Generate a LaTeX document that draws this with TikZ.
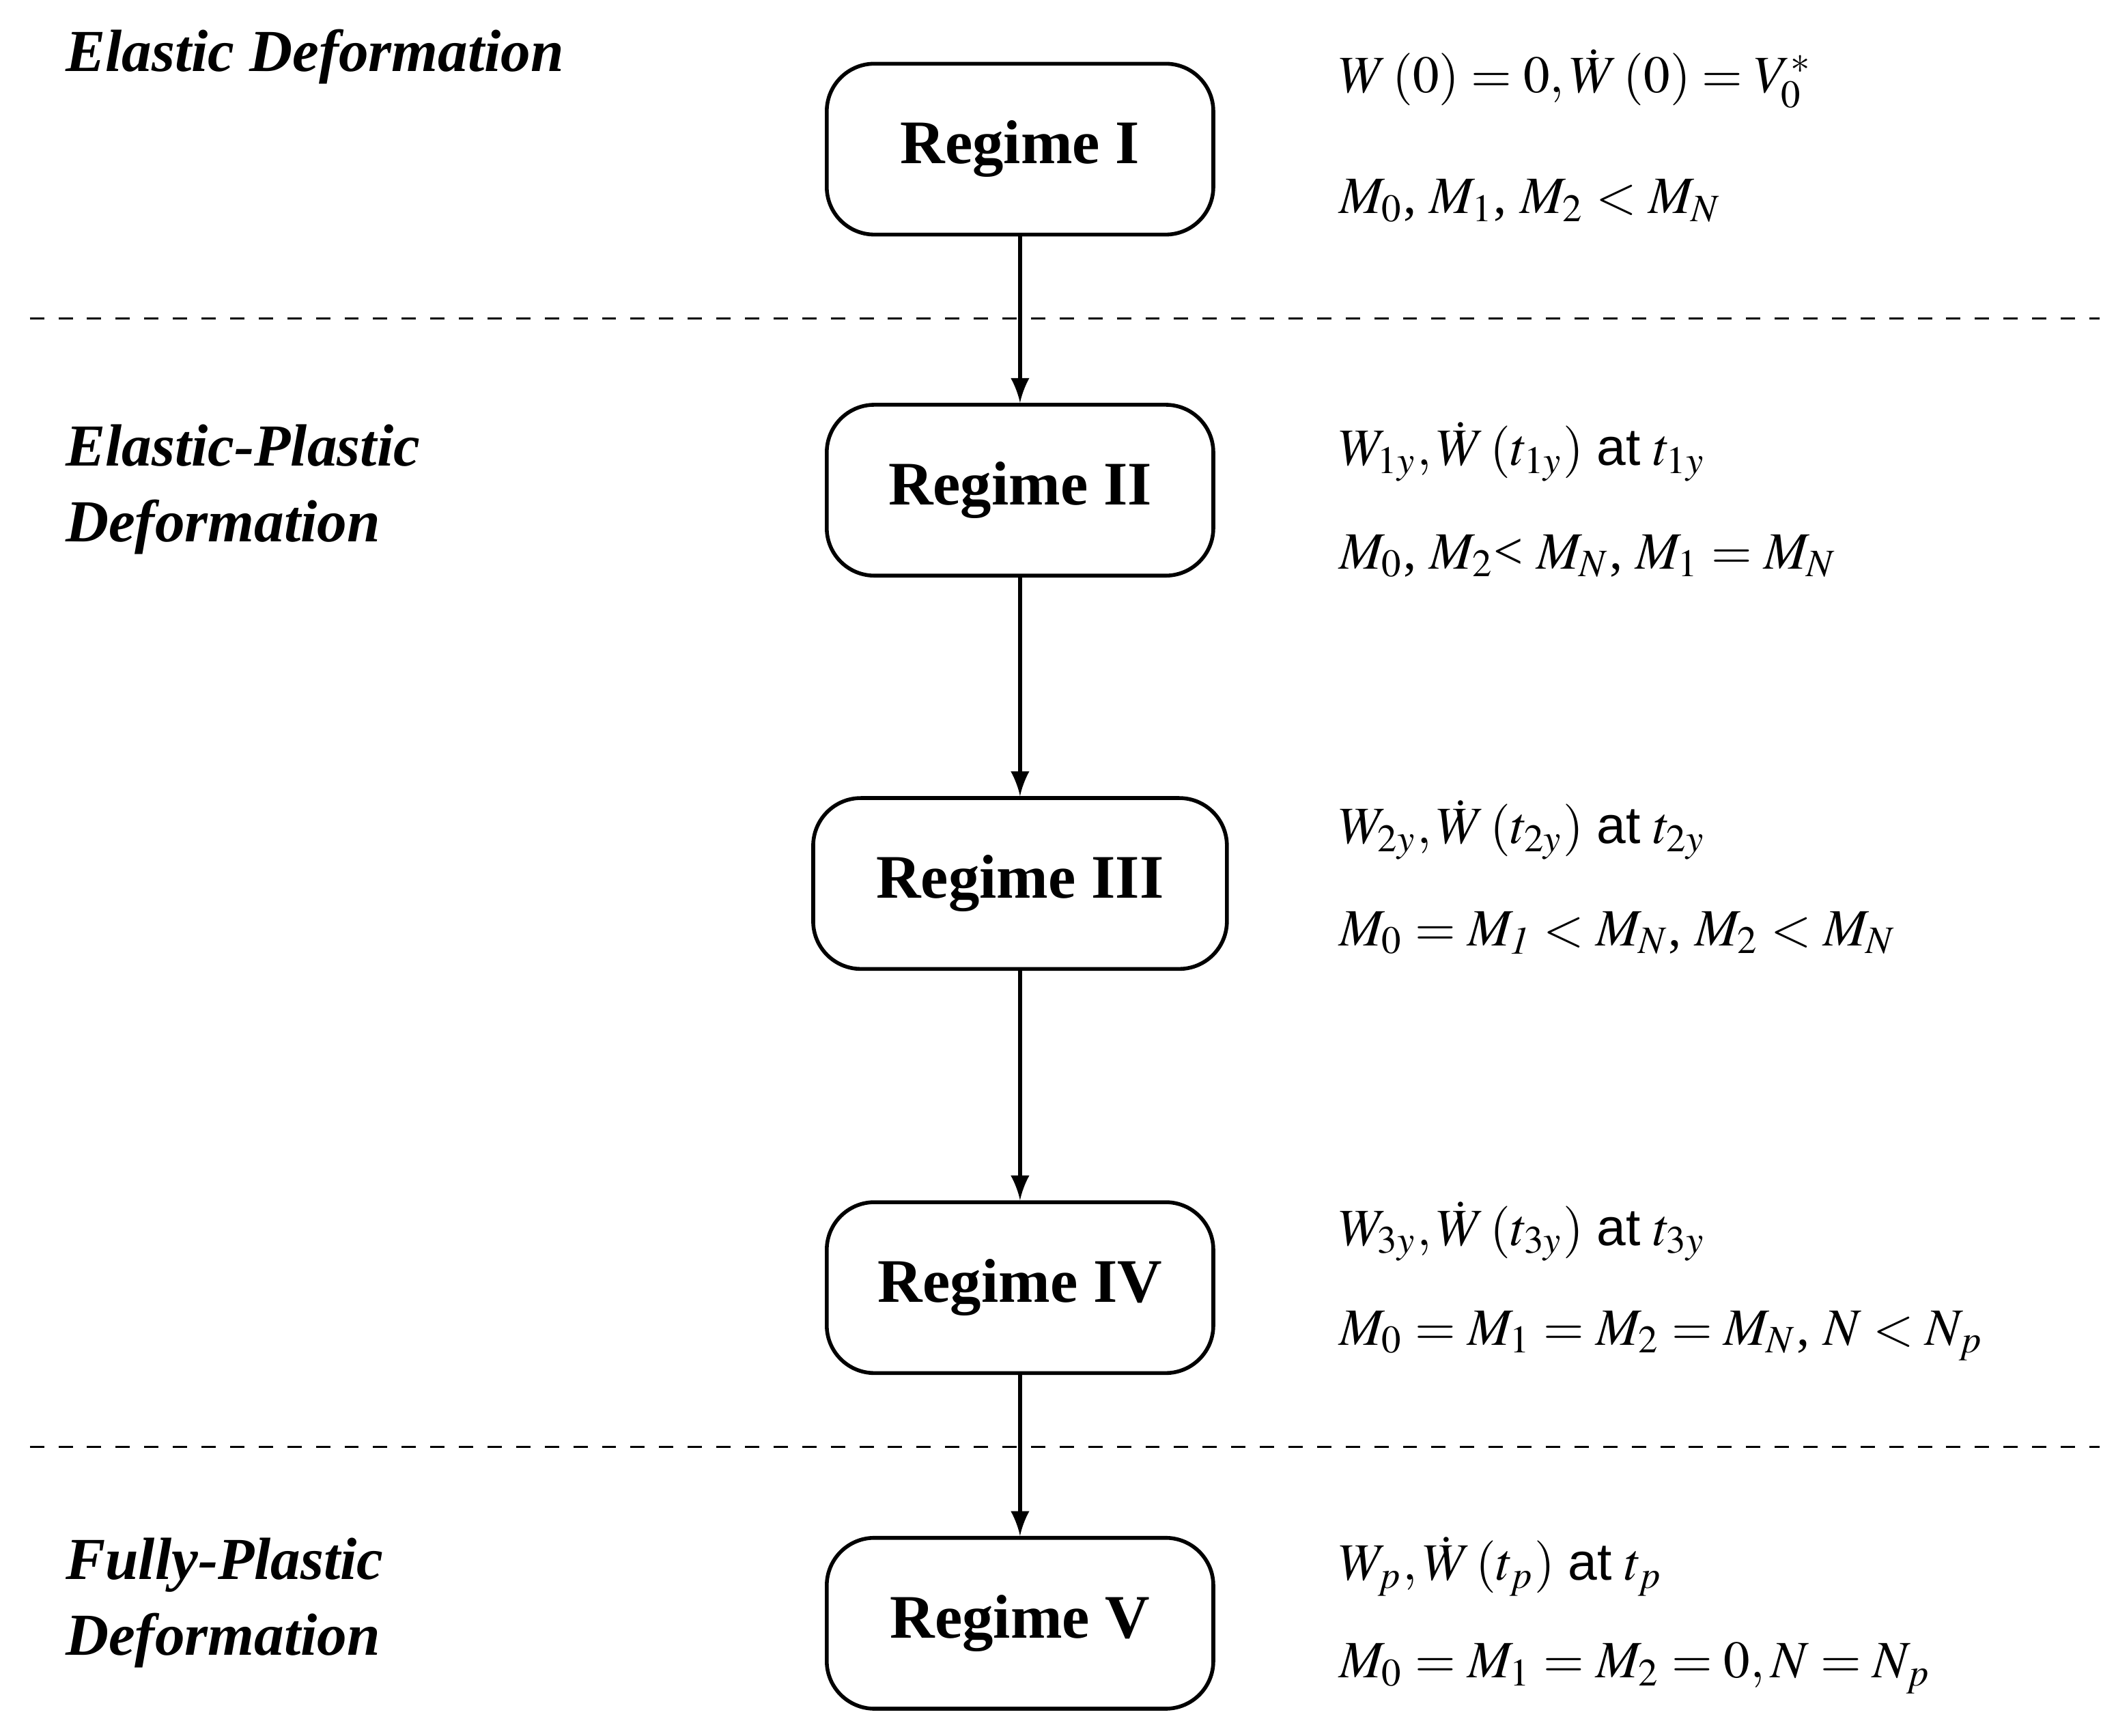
\documentclass[tikz,border=0pt]{standalone}
\usepackage{mathptmx}
\usepackage[no-math]{fontspec}
\setmainfont{Liberation Serif}
\newfontfamily\atfont{Liberation Sans}
\usepackage{tikz}
\usetikzlibrary{arrows}
\newcommand{\at}{\ {\atfont at}\ }
\tikzset{
    regime/.style={draw, thick, rounded corners=10pt, minimum width=2.85cm, minimum height=1.26cm, font=\fontsize{13}{15}\selectfont\bfseries},
    phase/.style={anchor=west, align=left, font=\fontsize{12.5}{16}\selectfont\bfseries\itshape},
    cond/.style={anchor=west, font=\fontsize{11}{13}\selectfont},
    nextstep/.style={-latex, thick}
}
\begin{document}
\begin{tikzpicture}
        \useasboundingbox (0,0) rectangle (15.6,12.8);

        % Regimes
        \node[regime] (r1) at (7.52,11.70) {Regime I};
        \node[regime] (r2) at (7.52,9.185) {Regime II};
        \node[regime, minimum width=3.05cm] (r3) at (7.52,6.285) {Regime III};
        \node[regime] (r4) at (7.52,3.305) {Regime IV};
        \node[regime] (r5) at (7.52,0.83) {Regime V};

        % arrows between regimes
        \draw[nextstep] (r1) -- (r2);
        \draw[nextstep] (r2) -- (r3);
        \draw[nextstep] (r3) -- (r4);
        \draw[nextstep] (r4) -- (r5);

        % dashed separators
        \coordinate (s1l) at (0.22,10.45);
        \coordinate (s1r) at (15.48,10.45);
        \coordinate (s2l) at (0.22,2.13);
        \coordinate (s2r) at (15.48,2.13);
        \draw[dashed] (s1l) -- (s1r);
        \draw[dashed] (s2l) -- (s2r);

        % phase names
        \node[phase] (p1) at (0.36,12.38) {Elastic Deformation};
        \node[phase] (p2) at (0.36,9.19) {Elastic-Plastic\\Deformation};
        \node[phase] (p3) at (0.36,0.98) {Fully-Plastic\\Deformation};

        % conditions
        \node[cond] (c1a) at (9.75,12.22) {$W\left(0\right)=0,\dot{W}\left(0\right)=V_0^*$};
        \node[cond] (c1b) at (9.75,11.32) {$M_0$, $M_1$, $M_2<M_N$};
        \node[cond] (c2a) at (9.75,9.47) {$W_{1y},\dot{W}\left(t_{1y}\right)$\at$t_{1y}$};
        \node[cond] (c2b) at (9.75,8.70) {$M_0$, $M_2$< $M_N$, $M_1=M_N$};
        \node[cond] (c3a) at (9.75,6.68) {$W_{2y},\dot{W}\left(t_{2y}\right)$\at$t_{2y}$};
        \node[cond] (c3b) at (9.75,5.92) {$M_0=M_{\mathit{1}}<M_N$, $M_2<M_N$};
        \node[cond] (c4a) at (9.75,3.72) {$W_{3y},\dot{W}\left(t_{3y}\right)$\at$t_{3y}$};
        \node[cond] (c4b) at (9.75,2.95) {$M_0=M_1=M_2=M_N$, $N<N_p$};
        \node[cond] (c5a) at (9.75,1.25) {$W_p,\dot{W}\left(t_p\right)$\at$t_p$};
        \node[cond] (c5b) at (9.75,0.50) {$M_0=M_1=M_2=0, N=N_p$};

    \end{tikzpicture}
\end{document}
